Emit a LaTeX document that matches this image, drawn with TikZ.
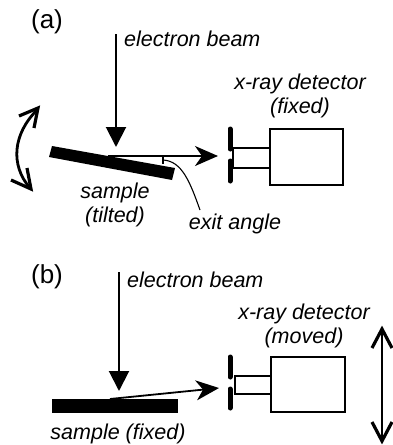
\documentclass[tikz,border=0pt]{standalone}
\usepackage{fontspec}
\setmainfont{Liberation Sans}
\usetikzlibrary{arrows.meta}
\tikzset{
  lbl/.style={font=\fontsize{21.5}{24}\selectfont\itshape, inner sep=0pt, align=center},
  panel/.style={font=\fontsize{26}{30}\selectfont, inner sep=0pt},
  sampleblock/.style={fill=black, draw=none},
  beam/.style={line width=2pt, -{Triangle[length=20pt,width=20pt]}},
  ray/.style={line width=1.8pt, -{Stealth[length=23pt,width=20pt,inset=7pt]}},
  move/.style={line width=2.8pt},
  barb/.style={line width=3.2pt, miter limit=10},
  body/.style={draw=black, line width=1.8pt, fill=white},
  plate/.style={line width=5pt, line cap=round},
  thin/.style={line width=1.1pt}
}
\begin{document}
\begin{tikzpicture}[x=1pt,y=-1pt]
\useasboundingbox (0,0) rectangle (393,445);
% panel a
\node[panel] (la) at (47,22) {(a)};
\node[lbl, anchor=west] (eb1) at (124,39) {electron beam};
\coordinate (b1s) at (116,34);
\coordinate (b1e) at (116,147);
\draw[beam] (b1s) -- (b1e);
\path[sampleblock] (52,146) -- (175,168) -- (172,180) -- (49,157) -- cycle;
\coordinate (r1s) at (108,156);
\coordinate (r1e) at (218,156);
\draw[ray] (r1s) -- (r1e);
\draw[thin] (163,156.5) -- (163,164);
\coordinate (c1s) at (163,160);
\coordinate (c1e) at (200,210);
\draw[thin] (c1s) .. controls (182,161) and (190,182) .. (c1e);
\node[lbl] (ang) at (235,224) {exit angle};
\node[lbl] (s1) at (115,205) {sample\\(tilted)};
\coordinate (m1a) at (37,110);
\coordinate (m1b) at (30,188);
\draw[move] (m1a) .. controls (13,134) and (10,165) .. (m1b);
\draw[barb] (19,116) -- (38,108) -- (34,128);
\draw[barb] (11,180) -- (31,189) -- (27,168);
\node[lbl] (d1) at (300,96) {x-ray detector\\(fixed)};
\draw[body] (233,148) rectangle (270,168);
\node[body, minimum width=73pt, minimum height=56pt, inner sep=0pt] (det1) at (306.5,157) {};
\draw[plate] (230,129) -- (230,149);
\draw[plate] (230,161) -- (230,181);
% panel b
\node[panel] (lb) at (47,277) {(b)};
\node[lbl, anchor=west] (eb2) at (127,280) {electron beam};
\coordinate (b2s) at (119,272);
\coordinate (b2e) at (119,391);
\draw[beam] (b2s) -- (b2e);
\node[sampleblock, minimum width=126pt, minimum height=14pt, inner sep=0pt] (s2b) at (115,406) {};
\coordinate (r2s) at (110,399);
\coordinate (r2e) at (219,388);
\draw[ray] (r2s) -- (r2e);
\node[lbl] (s2) at (118,434) {sample (fixed)};
\node[lbl] (d2) at (304,325.5) {x-ray detector\\(moved)};
\draw[body] (235,376) rectangle (271,394);
\node[body, minimum width=74pt, minimum height=55pt, inner sep=0pt] (det2) at (308,384.5) {};
\draw[plate] (230,357) -- (230,377);
\draw[plate] (230,389) -- (230,408);
\coordinate (m2a) at (382,329);
\coordinate (m2b) at (382,441);
\draw[move] (m2a) -- (m2b);
\draw[barb] (372,348) -- (m2a) -- (392,348);
\draw[barb] (372,422) -- (m2b) -- (392,422);
\end{tikzpicture}
\end{document}
